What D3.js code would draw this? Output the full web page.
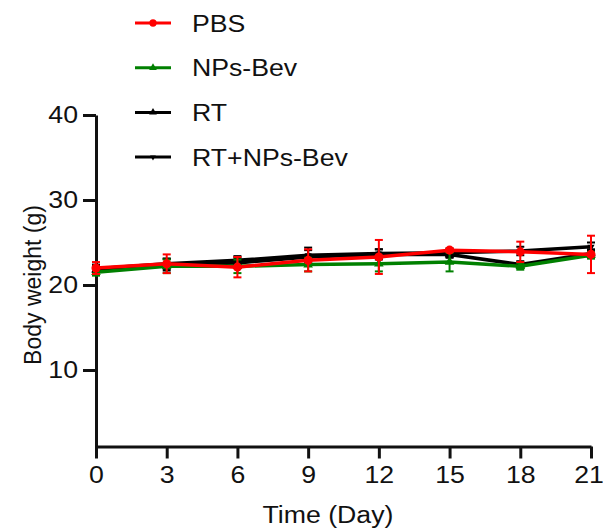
<!DOCTYPE html>
<html>
<head>
<meta charset="utf-8">
<script src="https://cdn.jsdelivr.net/npm/d3@7"></script>
<style>
  body { margin: 0; background: #fff; }
  svg text { font-family: "Liberation Sans", Arial, sans-serif; fill: #111; }
</style>
</head>
<body>
<div id="chart"></div>
<script>
// Body weight data (mean, sd) per group
var days = [0, 3, 6, 9, 12, 15, 18, 21];
var pbsMean = [22.0, 22.5, 22.1, 22.9, 23.3, 24.1, 23.9, 23.6];
var pbsSd = [0.7, 1.1, 1.2, 1.3, 2.0, 0.2, 1.2, 2.2];
var npsMean = [21.5, 22.2, 22.2, 22.4, 22.5, 22.7, 22.2, 23.5];
var npsSd = [0.4, 0.8, 0.8, 0.8, 0.9, 1.1, 0.4, 0.4];
var rtMean = [21.8, 22.4, 22.6, 23.3, 23.6, 23.6, 22.4, 23.7];
var rtSd = [0.5, 0.7, 0.6, 0.8, 0.6, 0.4, 0.4, 0.5];
var rtNpsMean = [21.9, 22.5, 22.9, 23.5, 23.7, 23.8, 24.0, 24.5];
var rtNpsSd = [0.5, 0.6, 0.5, 0.9, 0.5, 0.5, 0.5, 0.5];
var yTicks = [10, 20, 30, 40];
var xTicks = [0, 3, 6, 9, 12, 15, 18, 21];

var series = [
    { name: "RT+NPs-Bev", mean: rtNpsMean, sd: rtNpsSd, color: "#000000", symbol: "down" },
    { name: "RT", mean: rtMean, sd: rtSd, color: "#000000", symbol: "up" },
    { name: "NPs-Bev", mean: npsMean, sd: npsSd, color: "#008000", symbol: "up" },
    { name: "PBS", mean: pbsMean, sd: pbsSd, color: "#ff0000", symbol: "circle" }
];
var legendOrder = ["PBS", "NPs-Bev", "RT", "RT+NPs-Bev"];

var svgWidth = 603;
var svgHeight = 532;
var stretch = 1.16; // text in the picture is a bit wider than plain Arial

var svg = d3.select("#chart")
    .append("svg")
    .attr("width", svgWidth)
    .attr("height", svgHeight);

var x = d3.scaleLinear().domain([0, 21]).range([96, 591]);
var y = d3.scaleLinear().domain([1, 40]).range([446.5, 115]);

// axes
var yAxis = svg.append("g")
    .attr("transform", "translate(96,0)")
    .call(d3.axisLeft(y).tickValues(yTicks).tickSize(13).tickSizeOuter(0).tickPadding(5));
var xAxis = svg.append("g")
    .attr("transform", "translate(0,446.5)")
    .call(d3.axisBottom(x).tickValues(xTicks).tickSize(12).tickSizeOuter(0).tickPadding(8));

[xAxis, yAxis].forEach(function (ax) {
    ax.select(".domain").attr("stroke", "#111").attr("stroke-width", 3);
    ax.selectAll(".tick line").attr("stroke", "#111").attr("stroke-width", 3);
    ax.selectAll(".tick text")
        .attr("font-size", "23px")
        .attr("font-family", "'Liberation Sans', Arial, sans-serif")
        .attr("fill", "#111")
        .attr("transform", "scale(" + stretch + ",1)");
});
yAxis.selectAll(".tick text").attr("x", -18 / stretch);
// last label sits right at the edge, pull it in a touch
xAxis.selectAll(".tick text").filter(function (d) { return d === 21; }).attr("x", -2.5 / stretch);

svg.append("text")
    .attr("transform", "translate(41,285) rotate(-90)")
    .attr("text-anchor", "middle")
    .attr("font-size", "23px")
    .text("Body weight (g)");

svg.append("text")
    .attr("transform", "translate(328,523) scale(" + stretch + ",1)")
    .attr("text-anchor", "middle")
    .attr("font-size", "23px")
    .text("Time (Day)");

function symbolPath(kind) {
    if (kind === "circle") return d3.symbol().type(d3.symbolCircle).size(65)();
    if (kind === "up") return d3.symbol().type(d3.symbolTriangle).size(40)();
    return "M-3.6,-2.1L3.6,-2.1L0,4.2Z";
}

var line = d3.line()
    .x(function (d) { return x(d.day); })
    .y(function (d) { return y(d.mean); });

series.forEach(function (s) {
    var pts = days.map(function (d, i) { return { day: d, mean: s.mean[i], sd: s.sd[i] }; });
    var g = svg.append("g");

    // error bars
    var eb = g.selectAll(".eb").data(pts).enter().append("g");
    eb.append("line")
        .attr("x1", function (d) { return x(d.day); })
        .attr("x2", function (d) { return x(d.day); })
        .attr("y1", function (d) { return y(d.mean - d.sd); })
        .attr("y2", function (d) { return y(d.mean + d.sd); })
        .attr("stroke", s.color).attr("stroke-width", 2);
    [-1, 1].forEach(function (k) {
        eb.append("line")
            .attr("x1", function (d) { return x(d.day) - 4; })
            .attr("x2", function (d) { return x(d.day) + 4; })
            .attr("y1", function (d) { return y(d.mean + k * d.sd); })
            .attr("y2", function (d) { return y(d.mean + k * d.sd); })
            .attr("stroke", s.color).attr("stroke-width", 2);
    });

    g.append("path")
        .datum(pts)
        .attr("d", line)
        .attr("fill", "none")
        .attr("stroke", s.color)
        .attr("stroke-width", 3.5);

    g.selectAll(".pt").data(pts).enter().append("path")
        .attr("d", symbolPath(s.symbol))
        .attr("transform", function (d) { return "translate(" + x(d.day) + "," + y(d.mean) + ")"; })
        .attr("fill", s.color);
});

// legend
var legend = svg.append("g");
legendOrder.forEach(function (name, i) {
    var s = series.filter(function (d) { return d.name === name; })[0];
    var ly = 23 + i * 44.7;
    legend.append("line")
        .attr("x1", 135).attr("x2", 171)
        .attr("y1", ly).attr("y2", ly)
        .attr("stroke", s.color).attr("stroke-width", 3);
    legend.append("path")
        .attr("d", symbolPath(s.symbol))
        .attr("transform", "translate(153," + ly + ") scale(0.8)")
        .attr("fill", s.color);
    legend.append("text")
        .attr("transform", "translate(192," + (ly + 8.5) + ") scale(" + stretch + ",1)")
        .attr("font-size", "23px")
        .text(name);
});
</script>
</body>
</html>
